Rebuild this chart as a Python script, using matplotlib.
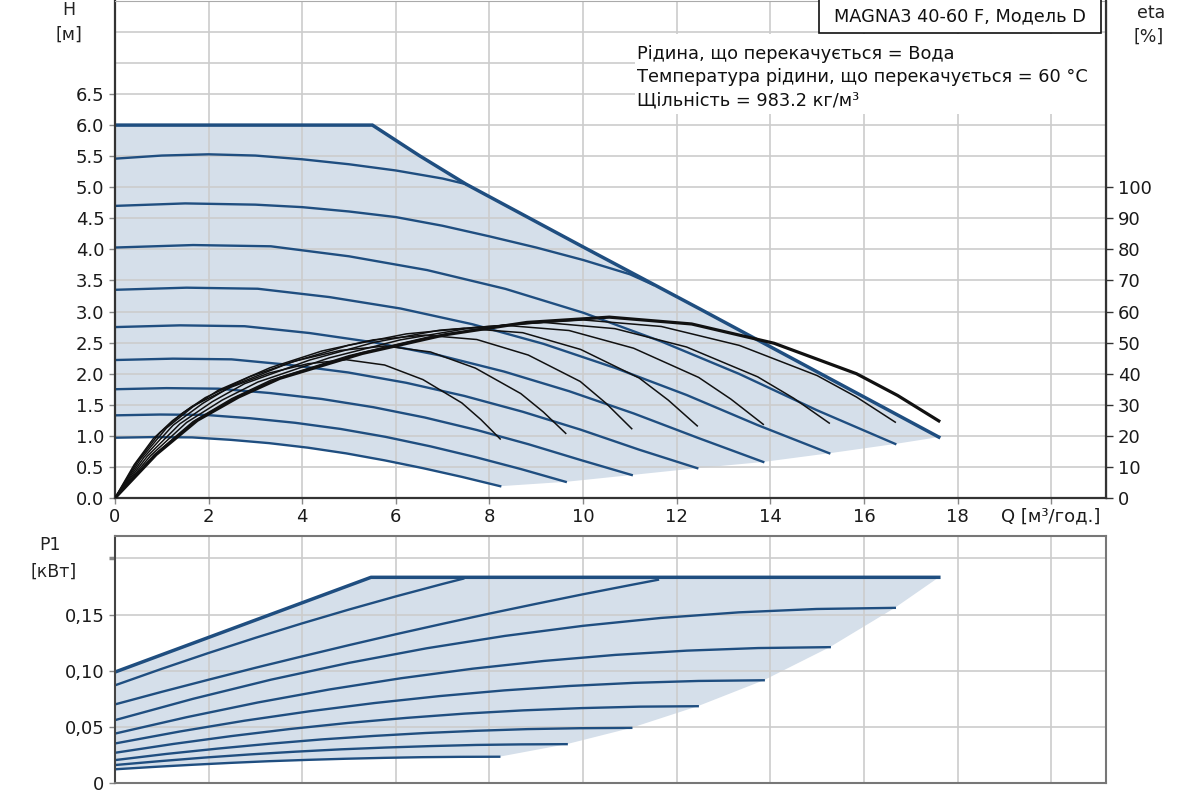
import matplotlib.pyplot as plt
from matplotlib.patches import Rectangle

plt.rcParams['font.family'] = ['DejaVu Sans']

BLUE = '#1f4e80'
FILL = '#d5dfea'
GRID = '#cccccc'

# ---- head curves H(Q) ----
q_max = [0, 5.5, 6.5, 7.5, 10.0, 12.5, 15.0, 17.6]
h_max = [6.0, 6.0, 5.51, 5.05, 4.04, 3.04, 2.03, 0.98]

h_q = [
    [0, 0.82, 1.65, 2.47, 3.29, 4.12, 4.94, 5.76, 6.58, 7.41, 8.23],
    [0, 0.96, 1.93, 2.89, 3.85, 4.82, 5.78, 6.74, 7.70, 8.67, 9.63],
    [0, 1.10, 2.21, 3.31, 4.42, 5.52, 6.62, 7.73, 8.83, 9.94, 11.04],
    [0, 1.24, 2.49, 3.73, 4.98, 6.22, 7.46, 8.71, 9.95, 11.20, 12.44],
    [0, 1.39, 2.77, 4.16, 5.54, 6.93, 8.31, 9.70, 11.08, 12.47, 13.85],
    [0, 1.53, 3.05, 4.58, 6.10, 7.63, 9.16, 10.68, 12.21, 13.73, 15.26],
    [0, 1.67, 3.33, 5.00, 6.67, 8.34, 10.00, 11.67, 13.34, 15.00, 16.67],
    [0, 1.5, 3, 4, 5, 6, 7, 8, 9, 10, 11, 11.5],
    [0, 1, 2, 3, 4, 5, 6, 7, 7.5],
]
h_v = [
    [0.97, 0.98, 0.975, 0.936, 0.883, 0.81, 0.718, 0.606, 0.48, 0.34, 0.19],
    [1.33, 1.343, 1.337, 1.283, 1.21, 1.111, 0.984, 0.831, 0.658, 0.466, 0.26],
    [1.75, 1.768, 1.759, 1.689, 1.593, 1.461, 1.295, 1.094, 0.866, 0.613, 0.37],
    [2.22, 2.242, 2.231, 2.142, 2.02, 1.854, 1.643, 1.388, 1.099, 0.777, 0.48],
    [2.75, 2.778, 2.764, 2.654, 2.503, 2.296, 2.035, 1.719, 1.361, 0.963, 0.58],
    [3.35, 3.384, 3.367, 3.233, 3.049, 2.797, 2.479, 2.094, 1.658, 1.173, 0.72],
    [4.03, 4.07, 4.05, 3.889, 3.667, 3.365, 2.982, 2.519, 1.995, 1.411, 0.87],
    [4.70, 4.74, 4.72, 4.68, 4.61, 4.52, 4.38, 4.21, 4.03, 3.83, 3.60, 3.43],
    [5.46, 5.51, 5.53, 5.51, 5.45, 5.37, 5.27, 5.14, 5.05],
]

# ---- efficiency curves eta(Q), % ----
eta_q = [
    [0, 0.41, 0.82, 1.23, 1.65, 2.47, 3.29, 4.12, 4.94, 5.76, 6.58, 7.41, 7.82, 8.23],
    [0, 0.48, 0.96, 1.44, 1.93, 2.89, 3.85, 4.82, 5.78, 6.74, 7.70, 8.67, 9.15, 9.63],
    [0, 0.55, 1.10, 1.66, 2.21, 3.31, 4.42, 5.52, 6.62, 7.73, 8.83, 9.94, 10.49, 11.04],
    [0, 0.62, 1.24, 1.87, 2.49, 3.73, 4.98, 6.22, 7.46, 8.71, 9.95, 11.20, 11.82, 12.44],
    [0, 0.69, 1.39, 2.08, 2.77, 4.16, 5.54, 6.93, 8.31, 9.70, 11.08, 12.47, 13.16, 13.85],
    [0, 0.76, 1.53, 2.29, 3.05, 4.58, 6.10, 7.63, 9.16, 10.68, 12.21, 13.73, 14.50, 15.26],
    [0, 0.83, 1.67, 2.50, 3.33, 5.00, 6.67, 8.34, 10.00, 11.67, 13.34, 15.00, 15.84, 16.67],
    [0, 0.88, 1.76, 2.64, 3.52, 5.28, 7.04, 8.80, 10.56, 12.32, 14.08, 15.84, 16.72, 17.60],
]
eta_v = [
    [0, 10.7, 19.1, 24.9, 29.5, 35.6, 40.2, 43.2, 44.5, 42.8, 38.1, 30.6, 25.2, 19.0],
    [0, 11.8, 21.0, 27.3, 32.3, 39.1, 44.1, 47.5, 48.9, 47.0, 41.8, 33.6, 27.7, 20.8],
    [0, 12.6, 22.5, 29.3, 34.7, 41.9, 47.3, 50.9, 52.4, 51.0, 46.0, 37.5, 30.5, 22.3],
    [0, 13.1, 23.4, 30.4, 36.0, 43.5, 49.1, 52.8, 54.6, 53.2, 47.8, 38.6, 31.5, 23.2],
    [0, 13.4, 23.9, 31.0, 36.8, 44.4, 50.1, 54.0, 55.6, 53.9, 48.2, 38.8, 31.8, 23.7],
    [0, 13.6, 24.3, 31.5, 37.3, 45.1, 50.9, 54.8, 56.5, 54.5, 48.6, 39.0, 32.1, 24.1],
    [0, 13.8, 24.6, 32.0, 37.9, 45.8, 51.7, 55.7, 57.3, 55.2, 49.1, 39.4, 32.5, 24.4],
    [0, 14.0, 25.0, 32.5, 38.5, 46.5, 52.5, 56.5, 58.2, 56.0, 49.8, 40.0, 33.0, 24.8],
]

# ---- power curves P1(Q), kW ----
p_max_q = [0, 5.47, 17.6]
p_max_v = [0.0988, 0.1832, 0.1832]

p_q = [
    [0, 0.82, 1.64, 2.46, 3.28, 4.11, 4.93, 5.75, 6.57, 7.39, 8.21],
    [0, 0.97, 1.93, 2.90, 3.86, 4.83, 5.79, 6.76, 7.72, 8.69, 9.65],
    [0, 1.10, 2.21, 3.31, 4.41, 5.52, 6.62, 7.72, 8.82, 9.93, 11.03],
    [0, 1.25, 2.49, 3.74, 4.98, 6.23, 7.47, 8.72, 9.96, 11.21, 12.45],
    [0, 1.39, 2.77, 4.16, 5.54, 6.93, 8.32, 9.70, 11.09, 12.47, 13.86],
    [0, 1.53, 3.05, 4.58, 6.11, 7.64, 9.16, 10.69, 12.22, 13.74, 15.27],
    [0, 1.67, 3.33, 5.00, 6.66, 8.33, 10.00, 11.66, 13.33, 14.99, 16.66],
    [0, 1, 2, 3, 4, 5, 6, 7, 8, 9, 10, 11, 11.6],
    [0, 1, 2, 3, 4, 5, 6, 7, 7.44],
]
p_v = [
    [0.0122, 0.0143, 0.0162, 0.0179, 0.0194, 0.0206, 0.0216, 0.0224, 0.0230, 0.0233, 0.0234],
    [0.0160, 0.0195, 0.0227, 0.0255, 0.0279, 0.0300, 0.0316, 0.0329, 0.0339, 0.0344, 0.0346],
    [0.0204, 0.0259, 0.0307, 0.0350, 0.0388, 0.0419, 0.0445, 0.0465, 0.0480, 0.0488, 0.0491],
    [0.0269, 0.0348, 0.0418, 0.0481, 0.0535, 0.0580, 0.0618, 0.0647, 0.0667, 0.0680, 0.0684],
    [0.0352, 0.0459, 0.0555, 0.0639, 0.0712, 0.0774, 0.0825, 0.0864, 0.0892, 0.0909, 0.0915],
    [0.0440, 0.0586, 0.0717, 0.0833, 0.0933, 0.1018, 0.1087, 0.1141, 0.1179, 0.1202, 0.1210],
    [0.0560, 0.0750, 0.0920, 0.1070, 0.1200, 0.1310, 0.1400, 0.1470, 0.1520, 0.1550, 0.1560],
    [0.0700, 0.0812, 0.0920, 0.1026, 0.1128, 0.1228, 0.1325, 0.1418, 0.1509, 0.1596, 0.1681, 0.1762, 0.1810],
    [0.0870, 0.1017, 0.1158, 0.1293, 0.1422, 0.1545, 0.1662, 0.1773, 0.1820],
]

x_ticks = [0, 2, 4, 6, 8, 10, 12, 14, 16, 18, 20]
x_labels = ['0', '2', '4', '6', '8', '10', '12', '14', '16', '18', 'Q [м³/год.]']
h_ticks = [0, 0.5, 1, 1.5, 2, 2.5, 3, 3.5, 4, 4.5, 5, 5.5, 6, 6.5]
eta_ticks = [0, 10, 20, 30, 40, 50, 60, 70, 80, 90, 100]
p_ticks = [0, 0.05, 0.10, 0.15, 0.20]
p_labels = ['0', '0,05', '0,10', '0,15', '']

info_lines = ['Рідина, що перекачується = Вода',
              'Температура рідини, що перекачується = 60 °C',
              'Щільність = 983.2 кг/м³']
model_name = 'MAGNA3 40-60 F, Модель D'

fig = plt.figure(figsize=(12, 8), dpi=100)
ax = fig.add_axes([0.0958, 0.3775, 0.8258, 0.6215])
ax_b = fig.add_axes([0.0958, 0.02125, 0.8258, 0.30875])

# ---------- top: H ----------
fq = q_max + [c[-1] for c in reversed(h_q[1:7])] + list(reversed(h_q[0]))
fh = h_max + [c[-1] for c in reversed(h_v[1:7])] + list(reversed(h_v[0]))
ax.fill(fq, fh, color=FILL, lw=0, zorder=0.3)
for q, h in zip(h_q, h_v):
    ax.plot(q, h, color=BLUE, lw=1.7, zorder=2)
ax.plot(q_max, h_max, color=BLUE, lw=2.5, zorder=2.2, solid_joinstyle='miter')

ax.set_xlim(0, 21.17)
ax.set_ylim(0, 8.0)
ax.set_xticks(x_ticks)
ax.set_xticklabels(x_labels)
ax.set_yticks(h_ticks)
ax.set_yticklabels([f'{v:.1f}' for v in h_ticks])
ax.set_yticks([7.0, 7.5], minor=True)
ax.set_axisbelow(True)
ax.grid(True, which='both', color=GRID, lw=1.2)
ax.tick_params(which='minor', length=0)
ax.tick_params(axis='both', labelsize=13, colors='#888888', labelcolor='#1a1a1a',
               length=4, width=1)
ax.tick_params(axis='x', pad=3)
for s in ['left', 'bottom']:
    ax.spines[s].set_color('#333333')
    ax.spines[s].set_linewidth(1.6)
ax.spines['top'].set_color('#aaaaaa')

# white area behind the info text
ax.add_patch(Rectangle((0.525, 0.773), 0.475, 0.161, transform=ax.transAxes,
                       facecolor='white', edgecolor='none', zorder=0.6))
for i, line in enumerate(info_lines):
    ax.text(0.527, 0.8936 - i * 0.0475, line, transform=ax.transAxes,
            fontsize=12.8, va='center', ha='left', color='#111111', zorder=3)

ax.add_patch(Rectangle((0.710, 0.936), 0.285, 0.07, transform=ax.transAxes,
                       facecolor='white', edgecolor='#111111', lw=1.2,
                       zorder=3, clip_on=False))
ax.text(0.8527, 0.968, model_name, transform=ax.transAxes, fontsize=12.8,
        ha='center', va='center', color='#111111', zorder=4)

# eta axis
ax2 = ax.twinx()
ax2.set_ylim(0, 160)
ax2.set_yticks(eta_ticks)
for i, (q, e) in enumerate(zip(eta_q, eta_v)):
    last = i == len(eta_q) - 1
    ax2.plot(q, e, color='#111111', lw=2.3 if last else 1.1, zorder=3)
ax2.tick_params(axis='y', labelsize=13, colors='#333333', labelcolor='#1a1a1a',
                length=5, width=1)
ax2.spines['right'].set_color('#333333')
ax2.spines['right'].set_linewidth(1.6)
for s in ['left', 'bottom', 'top']:
    ax2.spines[s].set_visible(False)

# ---------- bottom: P1 ----------
pfq = p_max_q + [c[-1] for c in reversed(p_q[1:7])] + list(reversed(p_q[0]))
pfv = p_max_v + [c[-1] for c in reversed(p_v[1:7])] + list(reversed(p_v[0]))
ax_b.fill(pfq, pfv, color=FILL, lw=0, zorder=0.3)
for q, p in zip(p_q, p_v):
    ax_b.plot(q, p, color=BLUE, lw=1.7, zorder=2)
ax_b.plot(p_max_q, p_max_v, color=BLUE, lw=2.5, zorder=2.2)

ax_b.set_xlim(0, 21.17)
ax_b.set_ylim(0, 0.22)
ax_b.set_xticks(x_ticks)
ax_b.set_xticklabels([])
ax_b.set_yticks(p_ticks)
ax_b.set_yticklabels(p_labels)
ax_b.set_axisbelow(True)
ax_b.grid(True, color=GRID, lw=1.2)
ax_b.tick_params(axis='x', length=0)
ax_b.tick_params(axis='y', labelsize=13, colors='#888888', labelcolor='#1a1a1a',
                 length=4, width=1)
ax_b.yaxis.get_major_ticks()[-1].tick1line.set_color('#222222')
ax_b.yaxis.get_major_ticks()[-1].tick1line.set_markeredgewidth(2.5)
for s in ax_b.spines.values():
    s.set_color('#777777')
    s.set_linewidth(1.5)
ax_b.spines['left'].set_color('#444444')

# axis titles
fig.text(0.0575, 0.9875, 'H', fontsize=12.5, ha='center', va='center', color='#222222')
fig.text(0.0575, 0.956, '[м]', fontsize=12.5, ha='center', va='center', color='#222222')
fig.text(0.959, 0.984, 'eta', fontsize=12.5, ha='center', va='center', color='#222222')
fig.text(0.9575, 0.954, '[%]', fontsize=12.5, ha='center', va='center', color='#222222')
fig.text(0.0417, 0.319, 'P1', fontsize=12.5, ha='center', va='center', color='#222222')
fig.text(0.045, 0.285, '[кВт]', fontsize=12.5, ha='center', va='center', color='#222222')

fig.savefig('out.png', dpi=100)
